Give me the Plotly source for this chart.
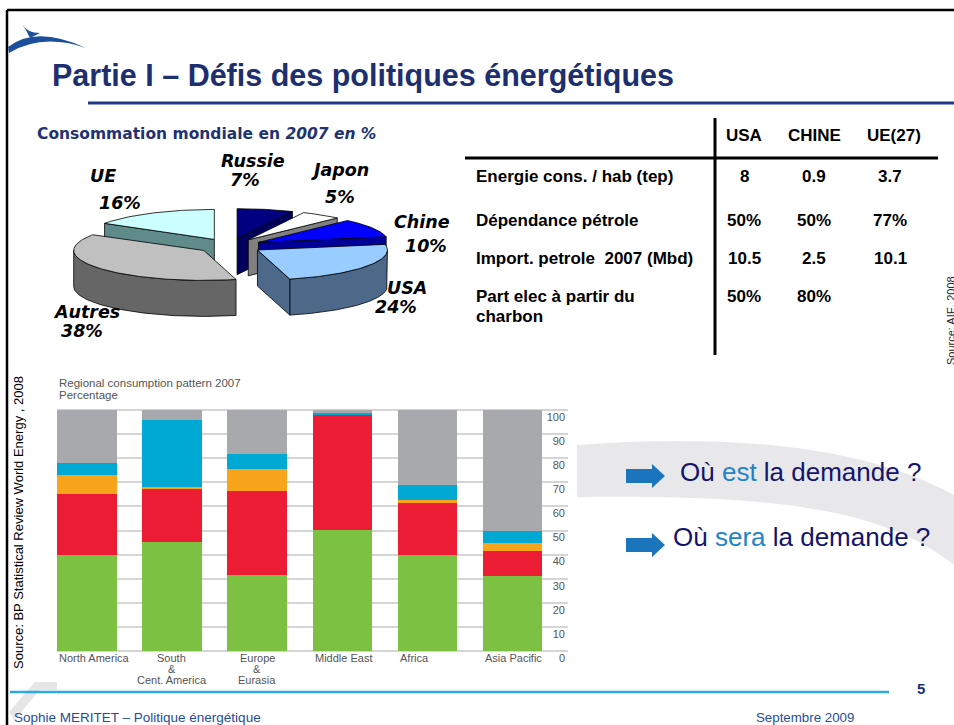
import math
import plotly.graph_objects as go

W, H = 954, 725

# ---------------- data ----------------
pie_labels = ["Russie", "Japon", "Chine", "USA", "Autres", "UE"]   # clockwise from 12 o'clock
pie_values = [7, 5, 10, 24, 38, 16]
pie_top_colors = ["#000080", "#FFFFFF", "#0000FF", "#99CCFF", "#C0C0C0", "#CCFFFF"]
pie_side_colors = ["#00005C", "#808080", "#000099", "#4D6989", "#666666", "#5F8B8B"]

regions = ["North America", "South<br>&<br>Cent. America", "Europe<br>&<br>Eurasia",
           "Middle East", "Africa", "Asia Pacific"]
oil = [40.0, 45.5, 31.6, 50.5, 40.0, 31.1]
gas = [25.3, 21.9, 35.0, 47.7, 21.9, 10.6]
nuclear = [7.8, 0.8, 9.1, 0.0, 0.8, 3.2]
hydro = [5.1, 27.6, 6.3, 0.8, 6.4, 5.0]
coal = [21.8, 4.2, 18.0, 1.0, 30.9, 50.1]
bar_series = [("Oil", oil, "#7DC142"), ("Natural gas", gas, "#EC1C34"),
              ("Nuclear energy", nuclear, "#F8A51B"), ("Hydroelectricity", hydro, "#00A9D4"),
              ("Coal", coal, "#A7A9AC")]
y_ticks = [0, 10, 20, 30, 40, 50, 60, 70, 80, 90, 100]

table_cols = ["USA", "CHINE", "UE(27)"]
table_rows = ["Energie cons. / hab (tep)", "Dépendance pétrole",
              "Import. petrole  2007 (Mbd)", "Part elec à partir du<br>charbon"]
usa_vals = ["8", "50%", "10.5", "50%"]
chine_vals = ["0.9", "50%", "2.5", "80%"]
ue_vals = ["3.7", "77%", "10.1", ""]

NAVY = "#1D2F6F"
SANS = "Liberation Sans"
VERD = "DejaVu Sans"

fig = go.Figure()

# ---------------- bar chart ----------------
xs = list(range(len(regions)))
for name, vals, col in bar_series:
    fig.add_trace(go.Bar(x=xs, y=vals, name=name, marker=dict(color=col, line=dict(width=0)),
                         width=0.7, showlegend=False, hoverinfo="skip",
                         xaxis="x", yaxis="y"))

# ---------------- 3D pie (page pixel axis) ----------------
CX, CY, RX, RY, DEPTH, EXPL = 230, 246, 130, 30, 36, 0.25


def pt(cx, cy, ang, dz=0.0):
    a = math.radians(ang)
    return cx + RX * math.cos(a), cy - RY * math.sin(a) + dz


def arc(cx, cy, lo, hi, dz=0.0):
    steps = max(2, int(abs(hi - lo)))
    return [pt(cx, cy, lo + (hi - lo) * k / steps, dz) for k in range(steps + 1)]


total = float(sum(pie_values))
cum = 0.0
slices = []
for lab, v, ct, cs in zip(pie_labels, pie_values, pie_top_colors, pie_side_colors):
    a2 = 90 - 360 * cum / total
    a1 = 90 - 360 * (cum + v) / total
    cum += v
    mid = math.radians((a1 + a2) / 2)
    cx = CX + EXPL * RX * math.cos(mid)
    cy = CY - EXPL * RY * math.sin(mid)
    slices.append((lab, a1, a2, cx, cy, ct, cs))


def poly_trace(points, fill):
    px = [p[0] for p in points] + [points[0][0]]
    py = [p[1] for p in points] + [points[0][1]]
    return go.Scatter(x=px, y=py, mode="lines", fill="toself", fillcolor=fill,
                      line=dict(color="black", width=0.8), hoverinfo="skip",
                      showlegend=False, xaxis="x3", yaxis="y3")


for (lab, a1, a2, cx, cy, ct, cs) in slices:
    for k in range(-2, 2):
        lo = max(a1, -180 + 360 * k)
        hi = min(a2, 0 + 360 * k)
        if hi > lo:
            fig.add_trace(poly_trace(arc(cx, cy, lo, hi) + arc(cx, cy, hi, lo, DEPTH), cs))
    for ang, vis in ((a1, math.cos(math.radians(a1)) > 1e-6),
                     (a2, math.cos(math.radians(a2)) < -1e-6)):
        if vis:
            p = pt(cx, cy, ang)
            fig.add_trace(poly_trace([(cx, cy), p, (p[0], p[1] + DEPTH), (cx, cy + DEPTH)], cs))

for (lab, a1, a2, cx, cy, ct, cs) in slices:
    fig.add_trace(poly_trace([(cx, cy)] + arc(cx, cy, a1, a2), ct))

# ---------------- annotations ----------------
ann = []


def text(x, y, s, size, color="black", family=SANS, xanchor="left", angle=0, yanchor="middle"):
    ann.append(dict(x=x, y=y, xref="x3", yref="y3", text=s, showarrow=False,
                    xanchor=xanchor, yanchor=yanchor, textangle=angle,
                    font=dict(family=family, size=size, color=color)))


text(50, 75, "<b>Partie I – Défis des politiques énergétiques</b>", 30.5, NAVY)
text(35, 134, "<b>Consommation mondiale en <i>2007 en %</i></b>", 15.5, "#1F3371", VERD)

# pie labels
pie_label_pos = {"UE": [(103, 176, "UE"), (120, 203, "16%")],
                 "Russie": [(253, 161, "Russie"), (245, 180, "7%")],
                 "Japon": [(340, 170, "Japon"), (340, 197, "5%")],
                 "Chine": [(422, 222, "Chine"), (426, 246, "10%")],
                 "USA": [(407, 288, "USA"), (396, 307, "24%")],
                 "Autres": [(86, 312, "Autres"), (82, 331, "38%")]}
for lab, v in zip(pie_labels, pie_values):
    for (x, y, s) in pie_label_pos[lab]:
        text(x, y, "<b><i>%s</i></b>" % s, 17.5, "black", VERD, xanchor="center")

# table
col_x = [744, 814, 894]
row_y = [176, 220, 258, 296]
for cx_, c in zip(col_x, table_cols):
    text(cx_, 135, "<b>%s</b>" % c, 17, "black", xanchor="center")
for ry_, r in zip(row_y, table_rows):
    parts = r.split("<br>")
    for k, ptxt in enumerate(parts):
        text(474, ry_ + 20 * k, "<b>%s</b>" % ptxt, 17, "black")
val_x = [744, 814, 890]
for cx_, vals in zip(val_x, [usa_vals, chine_vals, ue_vals]):
    for ry_, v in zip(row_y, vals):
        if v:
            text(cx_, ry_, "<b>%s</b>" % v, 17, "black", xanchor="center")

text(951, 321, "Source: AIE, 2008", 11, "#222222", xanchor="center", angle=-90)
text(18, 523, "Source: BP Statistical Review World Energy , 2008", 13, "black",
     xanchor="center", angle=-90)

# bar chart titles
text(57, 383, "Regional consumption pattern 2007", 11.5, "#555555")
text(57, 395, "Percentage", 11.5, "#555555")

# bar x labels
for i, r in enumerate(regions):
    parts = r.split("<br>")
    for k, ptxt in enumerate(parts):
        if len(parts) == 1:
            ann.append(dict(x=i - 0.35, y=658, xref="x", yref="y3", text=ptxt, showarrow=False,
                            xanchor="left", yanchor="middle",
                            font=dict(family=SANS, size=11, color="#555555")))
        else:
            ann.append(dict(x=i, y=658 + 11 * k, xref="x", yref="y3", text=ptxt, showarrow=False,
                            xanchor="center", yanchor="middle",
                            font=dict(family=SANS, size=11, color="#555555")))

# questions
text(678, 472, "Où <span style='color:#2383C8'>est</span> la demande ?", 26, "#14146B")
text(671, 537, "Où <span style='color:#2383C8'>sera</span> la demande ?", 26, "#14146B")

# footer
text(12, 717, "Sophie MERITET – Politique énergétique", 13.5, "#1F4E9A")
text(754, 717, "Septembre 2009", 13.3, "#1F4E9A")
text(921, 688, "<b>5</b>", 15, NAVY, xanchor="center")

# ---------------- shapes ----------------
shapes = []


def shp(**kw):
    d = dict(xref="x3", yref="y3")
    d.update(kw)
    shapes.append(d)


# gray swoosh band
shp(type="path", layer="below", fillcolor="#E8E8EA", line=dict(width=0),
    path="M 577,445 C 700,436 850,438 954,495 L 954,565 C 880,505 760,495 577,497 Z")
# ghost gray shape bottom-left
shp(type="path", layer="below", fillcolor="#E6E6E6", line=dict(width=0),
    path="M 9,712 L 35,682 L 57,682 L 57,690 L 40,690 L 14,720 Z")
# frame
shp(type="line", x0=7, x1=954, y0=10, y1=10, line=dict(color="black", width=2.5))
shp(type="line", x0=7, x1=7, y0=10, y1=725, line=dict(color="black", width=2.5))
# logo
shp(type="path", fillcolor="#1B4F9C", line=dict(width=0),
    path="M 8,47 Q 36,25 86,48 Q 42,33 9,53 Z")
shp(type="path", fillcolor="#1B4F9C", line=dict(width=0),
    path="M 22,24 Q 27,33 40,33 L 30,38 Q 27,31 22,24 Z")
# title underline
shp(type="line", x0=88, x1=954, y0=103, y1=103, line=dict(color="#1F3A8A", width=3))
# table lines
shp(type="line", x0=715, x1=715, y0=118, y1=355, line=dict(color="black", width=3))
shp(type="line", x0=465, x1=938, y0=158, y1=158, line=dict(color="black", width=3))
# arrows
for yc in (476, 545):
    shp(type="path", fillcolor="#1B75BC", line=dict(width=0),
        path="M 626,%d L 652,%d L 652,%d L 665,%d L 652,%d L 652,%d L 626,%d Z"
             % (yc - 7, yc - 7, yc - 12, yc, yc + 12, yc + 7, yc + 7))
# footer blue line
shp(type="line", x0=10, x1=889, y0=692, y1=692, line=dict(color="#29ABE2", width=2.5))

# ---------------- layout ----------------
PPU = (651 - 410) / 100.0   # pixels per percent in the bar chart
PAD_LO, PAD_HI = 7, 3       # extra range (percent) so edge tick labels are kept
fig.update_layout(
    width=W, height=H, margin=dict(l=0, r=0, t=0, b=0),
    paper_bgcolor="white", plot_bgcolor="rgba(0,0,0,0)",
    barmode="stack", bargap=0,
    xaxis=dict(domain=[57 / W, 568 / W], range=[-0.35, 5.65], showticklabels=False,
               showgrid=False, zeroline=False, showline=False, fixedrange=True),
    yaxis=dict(domain=[1 - (651 + PAD_LO * PPU) / H, 1 - (410 - PAD_HI * PPU) / H],
               range=[-PAD_LO, 100 + PAD_HI], side="right",
               tickvals=y_ticks, ticklabelposition="inside", ticklabelshift=7,
               tickfont=dict(family=SANS, size=11, color="#555555"),
               showgrid=True, gridcolor="#D5D5D5", gridwidth=1.5,
               zeroline=False, showline=False, fixedrange=True),
    xaxis3=dict(domain=[0, 1], range=[0, W], visible=False, anchor="y3", fixedrange=True),
    yaxis3=dict(domain=[0, 1], range=[H, 0], visible=False, anchor="x3", fixedrange=True),
    annotations=ann, shapes=shapes,
)

fig.write_html("out.html", config={"displayModeBar": False},
               post_script="document.body.style.margin='0';document.body.style.overflow='hidden';")
